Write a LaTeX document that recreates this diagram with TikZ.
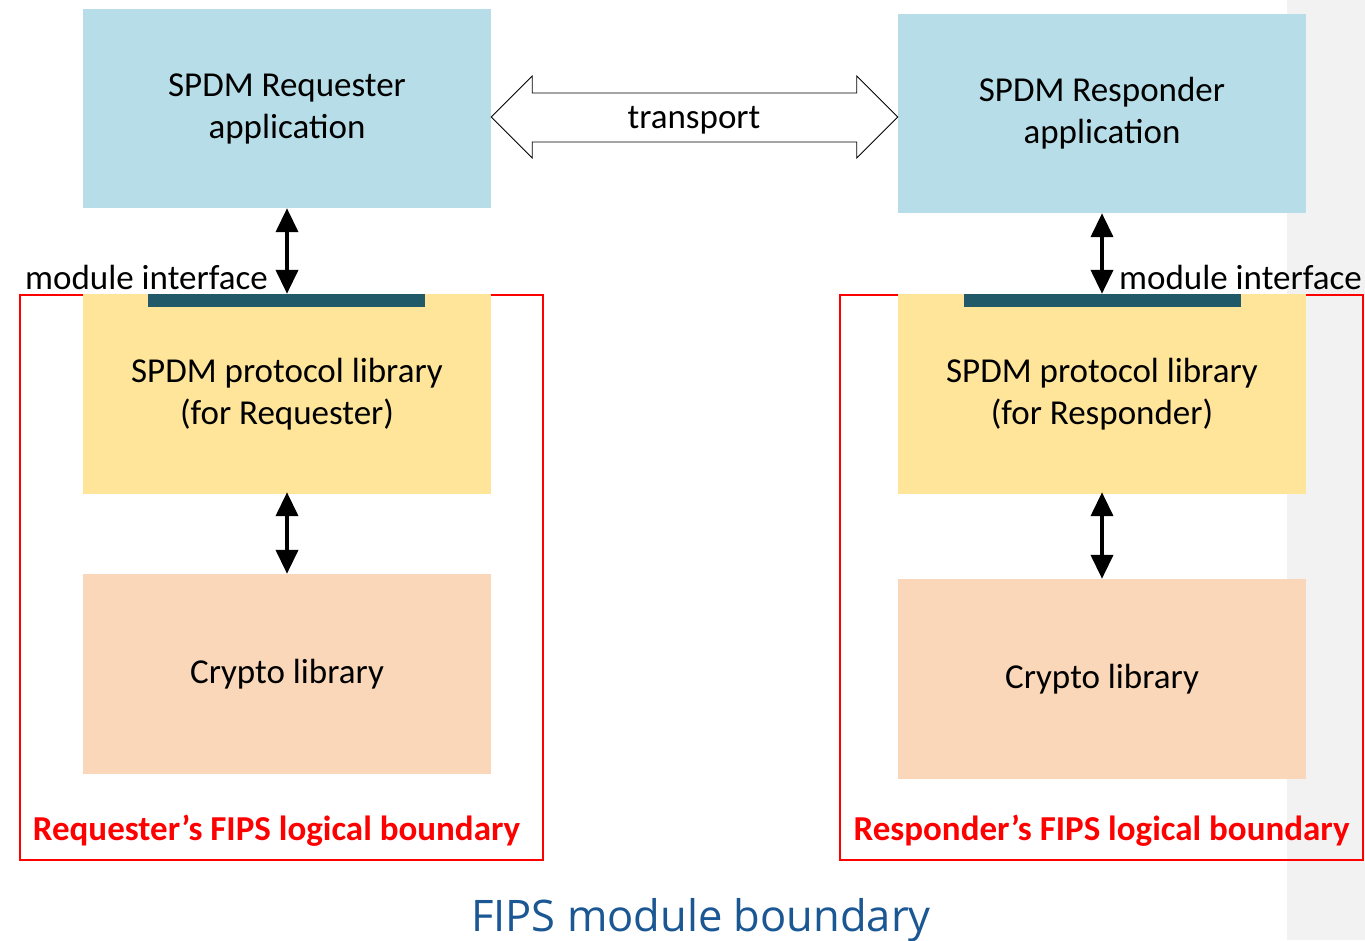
\documentclass[tikz,border=0pt]{standalone}
\usepackage{fontspec}
\setmainfont{Carlito}
\newfontfamily\titlefont{Open Sans}
\usetikzlibrary{arrows.meta,calc}
\definecolor{appblue}{HTML}{B7DEE8}
\definecolor{libyellow}{HTML}{FEE599}
\definecolor{cryptopeach}{HTML}{F9D7B8}
\definecolor{ifteal}{HTML}{215968}
\definecolor{bndred}{HTML}{FF0000}
\definecolor{titleblue}{HTML}{1A5793}
\definecolor{stripgray}{HTML}{F2F2F2}
\begin{document}
\begin{tikzpicture}[x=1pt,y=-1pt,
  box/.style={minimum width=408pt, inner sep=0pt, align=center, font=\fontsize{35}{42}\selectfont},
  appbox/.style={box, fill=appblue, minimum height=199pt},
  libbox/.style={box, fill=libyellow, minimum height=200pt},
  cryptobox/.style={box, fill=cryptopeach, minimum height=200pt},
  ifbar/.style={fill=ifteal, minimum width=277pt, minimum height=13pt, inner sep=0pt},
  boundary/.style={draw=bndred, line width=2pt},
  bndlabel/.style={text=bndred, font=\bfseries\fontsize{35}{42}\selectfont, inner sep=0pt},
  iflabel/.style={font=\fontsize{35}{42}\selectfont, inner sep=0pt},
  biarrow/.style={line width=4pt, {Triangle[width=22pt,length=24pt]}-{Triangle[width=22pt,length=24pt]}, shorten <=0pt, shorten >=0pt},
  transarrow/.style={draw=black, fill=white, line width=0.8pt, line join=miter}
]
% canvas and bounding box
\fill[white] (0,0) rectangle (1365,940);
\useasboundingbox (0,0) rectangle (1365,940);
\fill[stripgray] (1287,0) rectangle (1365,940);

% boundaries
\draw[boundary] (20,295) rectangle (543,860);
\draw[boundary] (840,295) rectangle (1363,860);

% requester side
\node[appbox] (reqapp) at (287,108.5) {SPDM Requester\\application};
\node[libbox] (reqlib) at (287,394) {SPDM protocol library\\(for Requester)};
\node[cryptobox] (reqcrypto) at (287,674) {Crypto library};
\node[ifbar] (reqif) at (286.5,300.5) {};

% responder side
\node[appbox] (rspapp) at (1102,113.5) {SPDM Responder\\application};
\node[libbox] (rsplib) at (1102,394) {SPDM protocol library\\(for Responder)};
\node[cryptobox] (rspcrypto) at (1102,679) {Crypto library};
\node[ifbar] (rspif) at (1102.5,300.5) {};

% vertical arrows
\draw[biarrow] (reqapp.south) -- (reqapp.south |- reqif.north);
\draw[biarrow] ([yshift=2pt]reqlib.south) -- (reqcrypto.north);
\draw[biarrow] (rspapp.south) -- (rspapp.south |- rspif.north);
\draw[biarrow] ([yshift=2pt]rsplib.south) -- (rspcrypto.north);

% module interface labels
\node[iflabel, anchor=base east] (reqiflabel) at (268,289) {module interface};
\node[iflabel, anchor=base west] (rspiflabel) at (1119,289) {module interface};

% transport double arrow
\coordinate (tl) at (reqapp.east |- 0,117);
\coordinate (tr) at (rspapp.west |- 0,117);
\draw[transarrow] (tl) -- ++(41,-41) -- ++(0,17) -- ($(tr)+(-41,-24)$) -- ++(0,-17) -- (tr)
  -- ++(-41,41) -- ++(0,-16) -- ($(tl)+(41,25)$) -- ++(0,16) -- cycle;
\node[iflabel, anchor=base] (transport) at (694,128) {transport};

% boundary labels
\node[bndlabel, anchor=base] (reqbnd) at (276.5,840) {Requester’s FIPS logical boundary};
\node[bndlabel, anchor=base] (rspbnd) at (1101.5,840) {Responder’s FIPS logical boundary};

% title
\node[anchor=base, text=titleblue, font=\titlefont\fontsize{43.5}{50}\selectfont, inner sep=0pt] (title) at (701,931) {FIPS module boundary};
\end{tikzpicture}
\end{document}
